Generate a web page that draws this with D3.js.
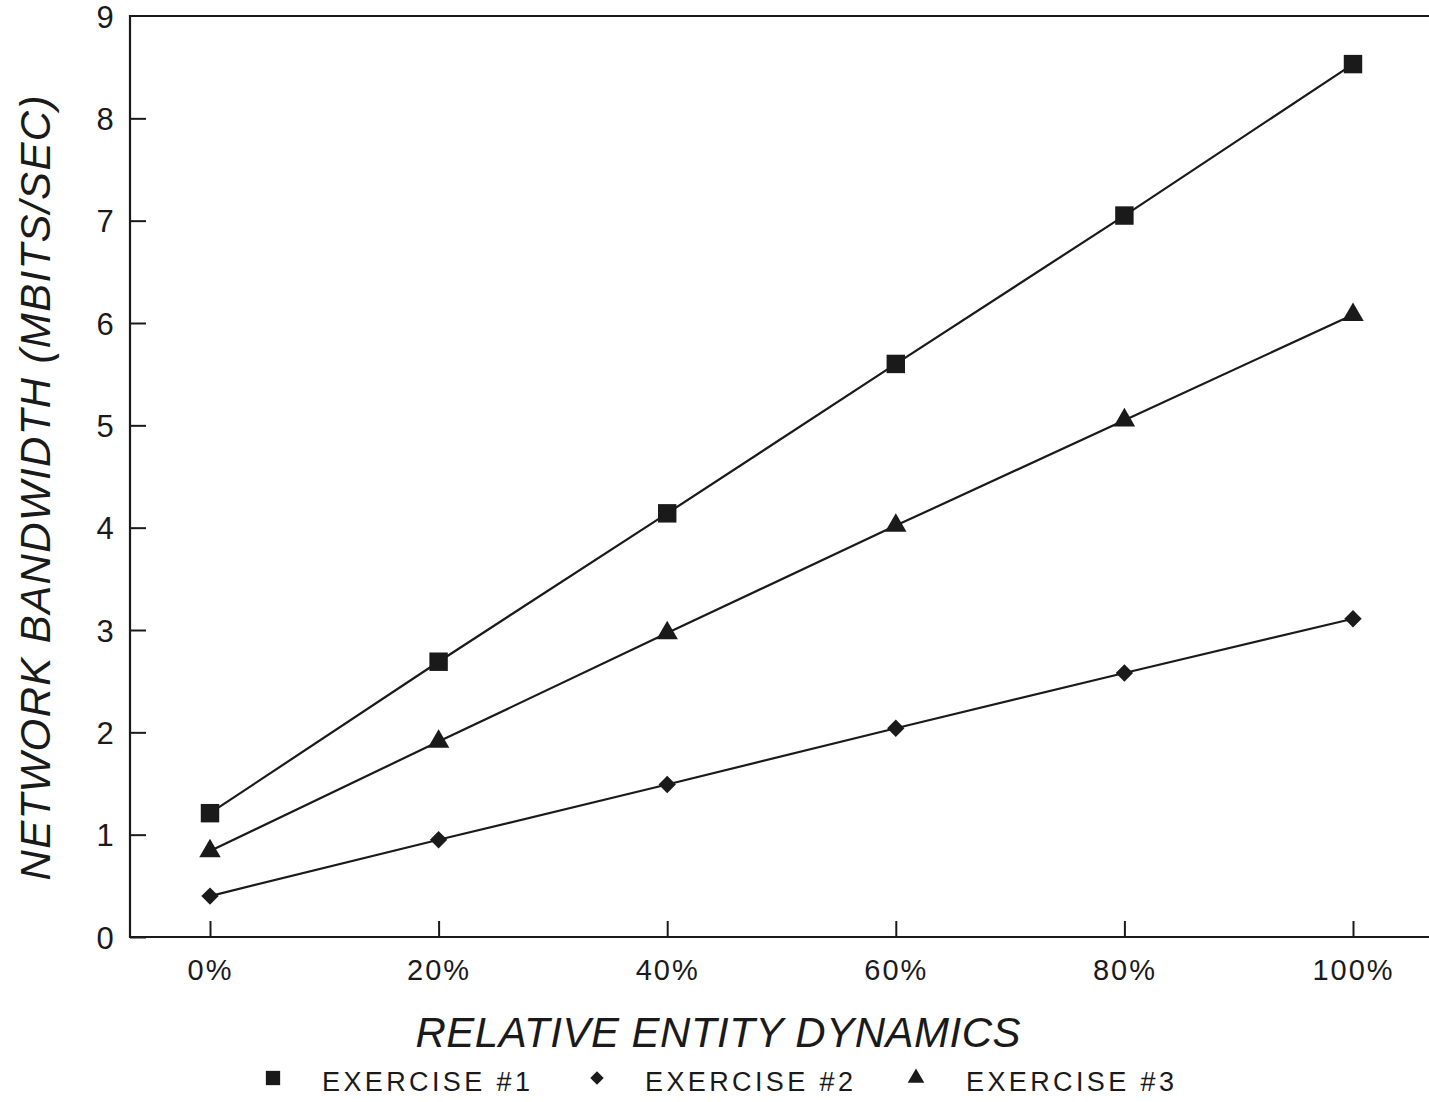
<!DOCTYPE html>
<html>
<head>
<meta charset="UTF-8">
<title>Network bandwidth vs entity dynamics</title>
<script src="https://cdnjs.cloudflare.com/ajax/libs/d3/7.8.5/d3.min.js"></script>
<style>
  html, body { margin: 0; padding: 0; background: #fff; }
  svg { display: block; }
  text { font-family: "Liberation Sans", "DejaVu Sans", sans-serif; fill: #1a1a1a; }
</style>
</head>
<body>
<svg id="chart" width="1429" height="1102"></svg>
<script>
// data
var dynamics = [0, 20, 40, 60, 80, 100];
var exercise1 = [1.21, 2.69, 4.14, 5.60, 7.05, 8.53];
var exercise2 = [0.40, 0.95, 1.49, 2.04, 2.58, 3.11];
var exercise3 = [0.84, 1.91, 2.97, 4.02, 5.05, 6.08];
var seriesNames = ["EXERCISE #1", "EXERCISE #2", "EXERCISE #3"];
var yTicks = [0, 1, 2, 3, 4, 5, 6, 7, 8, 9];

var svg = d3.select("#chart");
var ink = "#1a1a1a";

// plot frame
var frameLeft = 130, frameRight = 1440, frameTop = 16, frameBottom = 937;

var x = d3.scaleLinear().domain([0, 100]).range([210, 1353]);
var y = d3.scaleLinear().domain([0, 9]).range([frameBottom, frameTop]);

// frame lines (left, top, bottom; right edge runs off the page)
svg.append("path")
    .attr("d", "M" + frameRight + "," + frameTop + "H" + frameLeft + "V" + frameBottom + "H" + frameRight)
    .attr("fill", "none")
    .attr("stroke", ink)
    .attr("stroke-width", 2.2);

// y axis: ticks point inward
var yAxis = d3.axisLeft(y).tickValues(yTicks).tickSize(-16).tickPadding(14)
    .tickFormat(d3.format("d"));
var gy = svg.append("g").attr("transform", "translate(" + frameLeft + ",0)").call(yAxis);
gy.select(".domain").remove();
gy.selectAll(".tick line").attr("stroke", ink).attr("stroke-width", 2);
gy.selectAll(".tick text").attr("font-size", 31).attr("fill", ink)
    .attr("x", -25).attr("text-anchor", "middle").attr("dy", "0.36em");
gy.selectAll(".tick").filter(function(d) { return d === 9; }).select("line").remove();

// x axis: ticks point up
var xAxis = d3.axisBottom(x).tickValues(dynamics).tickSize(-16).tickPadding(22)
    .tickFormat(function(d) { return d + "%"; });
var gx = svg.append("g").attr("transform", "translate(0," + frameBottom + ")").call(xAxis);
gx.select(".domain").remove();
gx.selectAll(".tick line").attr("stroke", ink).attr("stroke-width", 2);
gx.selectAll(".tick text").attr("font-size", 29).attr("fill", ink).attr("letter-spacing", 2);

// axis titles
svg.append("text")
    .attr("x", 718).attr("y", 1047)
    .attr("text-anchor", "middle")
    .attr("font-size", 42).attr("font-style", "italic")
    .attr("textLength", 605).attr("lengthAdjust", "spacing")
    .text("RELATIVE ENTITY DYNAMICS");

svg.append("text")
    .attr("transform", "translate(50,488) rotate(-90)")
    .attr("text-anchor", "middle")
    .attr("font-size", 42).attr("font-style", "italic")
    .attr("textLength", 785).attr("lengthAdjust", "spacing")
    .text("NETWORK BANDWIDTH (MBITS/SEC)");

// series; the diamond is a square turned 45 degrees
var series = [
  { name: seriesNames[0], values: exercise1, symbol: d3.symbolSquare, size: 340, rot: 0 },
  { name: seriesNames[1], values: exercise2, symbol: d3.symbolSquare, size: 150, rot: 45 },
  { name: seriesNames[2], values: exercise3, symbol: d3.symbolTriangle, size: 200, rot: 0 }
];

var line = d3.line()
    .x(function(d, i) { return x(dynamics[i]); })
    .y(function(d) { return y(d); });

series.forEach(function(s) {
  svg.append("path")
      .attr("d", line(s.values))
      .attr("fill", "none")
      .attr("stroke", ink)
      .attr("stroke-width", 2.2);

  svg.selectAll(null)
      .data(s.values)
      .enter().append("path")
      .attr("transform", function(d, i) {
        return "translate(" + x(dynamics[i]) + "," + y(d) + ") rotate(" + s.rot + ")";
      })
      .attr("d", d3.symbol().type(s.symbol).size(s.size))
      .attr("fill", ink);
});

// legend
var legendItems = [
  { sx: 273, tx: 322 },
  { sx: 597, tx: 645 },
  { sx: 916, tx: 966 }
];
series.forEach(function(s, i) {
  var ly = 1081;
  svg.append("path")
      .attr("transform", "translate(" + legendItems[i].sx + "," + (ly - 3) + ") rotate(" + s.rot + ")")
      .attr("d", d3.symbol().type(s.symbol).size(s.size * 0.6))
      .attr("fill", ink);
  svg.append("text")
      .attr("x", legendItems[i].tx).attr("y", ly + 10)
      .attr("font-size", 27)
      .attr("textLength", 208).attr("lengthAdjust", "spacing")
      .text(s.name);
});
</script>
</body>
</html>
